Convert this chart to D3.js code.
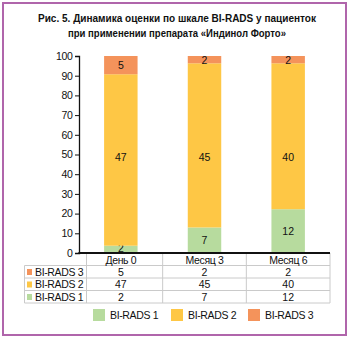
<!DOCTYPE html>
<html><head><meta charset="utf-8">
<script src="https://cdn.jsdelivr.net/npm/d3@7"></script>
<style>body{margin:0;background:#fff;}svg{display:block;font-family:"Liberation Sans",Arial,sans-serif;}</style>
</head><body>
<svg id="c" width="350" height="340"></svg>
<script>
const categories = ["День 0", "Месяц 3", "Месяц 6"];
const seriesNames = ["BI-RADS 1", "BI-RADS 2", "BI-RADS 3"];
const rads1 = [2, 7, 12];
const rads2 = [47, 45, 40];
const rads3 = [5, 2, 2];
const colors = ["#b7db9e", "#fec745", "#f4935b"];
const yTicks = [0,10,20,30,40,50,60,70,80,90,100];
const titleLines = ["Рис. 5. Динамика оценки по шкале BI-RADS у пациенток", "при применении препарата «Индинол Форто»"];

(function(){
const seriesVals = [rads1, rads2, rads3];
const rows = categories.map((c,i)=>{
  const o = {cat:c};
  seriesNames.forEach((s,j)=>o[s]=seriesVals[j][i]);
  return o;
});
const stacked = d3.stack().keys(seriesNames).offset(d3.stackOffsetExpand)(rows);
const LS = "-0.35px";

const svg = d3.select("#c");
svg.append("rect").attr("x",3).attr("y",3).attr("width",343).attr("height",332)
  .attr("fill","#fff").attr("stroke","#b065ab").attr("stroke-width",2);

const titleW = [278, 218];
svg.selectAll("text.title").data(titleLines).join("text")
  .attr("x",177).attr("y",(d,i)=>22+i*15).attr("text-anchor","middle")
  .attr("font-size",11.2).attr("font-weight","bold").attr("fill","#111")
  .attr("textLength",(d,i)=>titleW[i]).attr("lengthAdjust","spacingAndGlyphs").text(d=>d);

const pLeft=79, pRight=330, pTop=56, pBottom=253;
const x = d3.scaleBand().domain(categories).range([pLeft,pRight]).paddingInner(0.6).paddingOuter(0.3);
const y = d3.scaleLinear().domain([0,1]).range([pBottom,pTop]);
const yAxisScale = d3.scaleLinear().domain([0,100]).range([pBottom,pTop]);
const cx = c => x(c)+x.bandwidth()/2;

const g = svg.append("g");
stacked.forEach((layer,j)=>{
  g.selectAll(null).data(layer).join("rect")
    .attr("x",d=>x(d.data.cat)).attr("width",x.bandwidth())
    .attr("y",d=>y(d[1])).attr("height",d=>y(d[0])-y(d[1]))
    .attr("fill",colors[j]);
  g.selectAll(null).data(layer).join("text")
    .attr("x",d=>cx(d.data.cat))
    .attr("y",d=> j===1 ? y(0.488)+4 : Math.min((y(d[0])+y(d[1]))/2+4, pBottom-1))
    .attr("text-anchor","middle").attr("font-size",10.5).attr("fill","#111")
    .text(d=>d.data[seriesNames[j]]);
});

const ya = svg.append("g").attr("transform",`translate(${pLeft},0)`)
  .call(d3.axisLeft(yAxisScale).tickValues(yTicks).tickSize(4).tickPadding(2.5));
ya.select(".domain").attr("stroke","#111").attr("stroke-width",1.3);
ya.selectAll(".tick line").attr("stroke","#111");
ya.selectAll(".tick text").attr("font-size",10.5).attr("fill","#111")
  .attr("letter-spacing",LS).attr("font-family","Liberation Sans, Arial, sans-serif");

// table
const tLeft = 24.5, rowH = 12.5;
const tableRows = [2,1,0];
const gridColor = "#cacaca";
const tg = svg.append("g");
const bounds = [86.5];
for(let i=1;i<categories.length;i++) bounds.push((cx(categories[i-1])+cx(categories[i]))/2);
bounds.push(pRight);
bounds.forEach(bx=>{
  tg.append("line").attr("x1",bx).attr("x2",bx).attr("y1",pBottom).attr("y2",pBottom+rowH*4)
    .attr("stroke",gridColor);
});
tg.append("line").attr("x1",tLeft).attr("x2",tLeft).attr("y1",pBottom+rowH).attr("y2",pBottom+rowH*4).attr("stroke",gridColor);
for(let r=1;r<=4;r++){
  tg.append("line").attr("x1",tLeft).attr("x2",pRight).attr("y1",pBottom+rowH*r).attr("y2",pBottom+rowH*r).attr("stroke",gridColor);
}
categories.forEach(c=>{
  tg.append("text").attr("x",cx(c)).attr("y",pBottom+rowH-2)
    .attr("text-anchor","middle").attr("font-size",10.5).attr("letter-spacing",LS).attr("fill","#111").text(c);
});
tableRows.forEach((j,r)=>{
  const yy = pBottom+rowH*(r+1);
  tg.append("rect").attr("x",27).attr("y",yy+3.5).attr("width",5).attr("height",6).attr("fill",colors[j]);
  tg.append("text").attr("x",35).attr("y",yy+rowH-2.5).attr("font-size",10.5).attr("letter-spacing",LS).attr("fill","#111").text(seriesNames[j]);
  categories.forEach((c,i)=>{
    tg.append("text").attr("x",cx(c)).attr("y",yy+rowH-2.5)
      .attr("text-anchor","middle").attr("font-size",10.5).attr("fill","#111").text(seriesVals[j][i]);
  });
});
svg.append("line").attr("x1",pLeft-0.6).attr("x2",pRight).attr("y1",pBottom).attr("y2",pBottom).attr("stroke","#111").attr("stroke-width",1.8);

// legend
const legX = [93,171,248];
seriesNames.forEach((s,j)=>{
  svg.append("rect").attr("x",legX[j]).attr("y",309).attr("width",12).attr("height",12).attr("fill",colors[j]);
  svg.append("text").attr("x",legX[j]+17).attr("y",319).attr("font-size",10.5).attr("letter-spacing",LS).attr("fill","#111").text(s);
});
})();
</script>
</body></html>
